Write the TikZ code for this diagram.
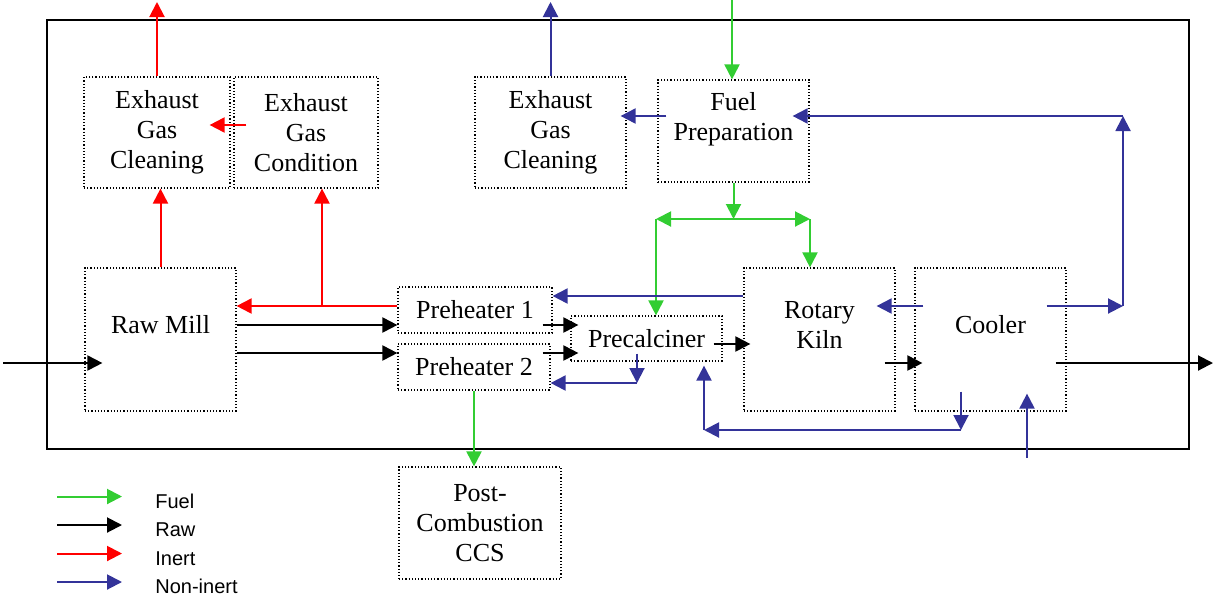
\documentclass[tikz,border=0pt]{standalone}
\usepackage{fontspec}
\setmainfont{Liberation Serif}
\newfontfamily\legendfont{Liberation Sans}
\usetikzlibrary{arrows.meta,calc}
\definecolor{fuelgreen}{RGB}{50,205,50}
\definecolor{inertred}{RGB}{255,0,0}
\definecolor{noninertblue}{RGB}{51,51,153}

\begin{document}
\begin{tikzpicture}[x=0.5pt, y=-0.5pt,
  unit/.style={draw, densely dotted, line width=0.6pt, align=center, inner sep=0pt,
    font=\fontsize{13}{15}\selectfont},
  flowline/.style={line width=1pt, -{Triangle[length=7.5pt,width=7.5pt]}},
  fuelline/.style={flowline, fuelgreen},
  rawline/.style={flowline, black},
  inertline/.style={flowline, inertred},
  noninertline/.style={flowline, noninertblue},
  legtext/.style={anchor=base west, inner sep=0pt, font=\legendfont\fontsize{10}{12}\selectfont}]
\useasboundingbox (0,0) rectangle (1213,600);

% plant boundary
\node[draw, line width=1pt, inner sep=0pt, minimum width=571pt, minimum height=214.5pt] (plant) at (618,234.5) {};

% units
\node[unit, minimum width=73pt, minimum height=55.5pt] (egc1) at (157,132.5) {Exhaust\\Gas\\Cleaning};
\node[unit, minimum width=72pt, minimum height=55.5pt] (egcond) at (306,132.5) {Exhaust\\Gas\\Condition};
\node[unit, minimum width=75.5pt, minimum height=55.5pt] (egc2) at (550.5,132.5) {Exhaust\\Gas\\Cleaning};
\node[unit, minimum width=75.5pt, minimum height=51pt] (fuelprep) at (733.5,131) {Fuel\\Preparation\\~};
\node[unit, minimum width=75.5pt, minimum height=71.5pt] (rawmill) at (160.5,339.5) {Raw Mill\\~};
\node[unit, minimum width=77pt, minimum height=23pt] (ph1) at (475,310) {Preheater 1};
\node[unit, minimum width=76pt, minimum height=23pt] (ph2) at (474,367) {Preheater 2};
\node[unit, minimum width=75.5pt, minimum height=22.5pt] (precalc) at (646.5,338.5) {Precalciner};
\node[unit, minimum width=75.5pt, minimum height=71.5pt] (kiln) at (819.5,339.5) {Rotary\\Kiln\\~};
\node[unit, minimum width=75.5pt, minimum height=71.5pt] (cooler) at (990.5,339.5) {Cooler\\~};
\node[unit, minimum width=81pt, minimum height=56pt] (ccs) at (480,523) {Post-\\Combustion\\CCS};

% free ends and bends
\coordinate (inertout) at (161,2);
\coordinate (noninertout) at (552,2);
\coordinate (fuelin) at (732,0);
\coordinate (rawin) at (3,363);
\coordinate (clinker) at (1213,363);
\coordinate (airin) at (1027,458);
\coordinate (split) at (322,306);
\coordinate (fuelsplit) at (fuelprep.south |- 0,219);
\coordinate (fuelleft) at (656,219);
\coordinate (fuelright) at (810,219);
\coordinate (pcbend) at (637,383);
\coordinate (coolbend) at (961,430);
\coordinate (calcbend) at (704,430);
\coordinate (recbend) at (1123,306);
\coordinate (rectop) at (1123,116);
% rows
\coordinate (rowa) at (0,325);
\coordinate (rowb) at (0,353);
\coordinate (rowc) at (0,344);
\coordinate (rowd) at (0,363);
\coordinate (rowe) at (0,296);
\coordinate (rowf) at (0,306);
\coordinate (rowg) at (0,116);
\coordinate (rowh) at (0,125);

% inert
\draw[inertline] (egc1.north) -- (egc1.north |- inertout);
\draw[inertline] ($(egcond.west |- rowh)+(13,0)$) -- ($(egc1.east |- rowh)+(-21,0)$);
\draw[inertline] (rawmill.north) -- (rawmill.north |- egc1.south);
\draw[inertline] (ph1.west |- rowf) -- (rawmill.east |- rowf);
\draw[inertline] (split) -- (split |- egcond.south);

% raw
\draw[rawline] (rawin) -- ($(rawmill.west |- rawin)+(18,0)$);
\draw[rawline] (rawmill.east |- rowa) -- (ph1.west |- rowa);
\draw[rawline] (rawmill.east |- rowb) -- (ph2.west |- rowb);
\draw[rawline] ($(ph1.east |- rowa)+(-10,0)$) -- ($(precalc.west |- rowa)+(8,0)$);
\draw[rawline] ($(ph2.east |- rowb)+(-8,0)$) -- ($(precalc.west |- rowb)+(8,0)$);
\draw[rawline] ($(precalc.east |- rowc)+(-9,0)$) -- ($(kiln.west |- rowc)+(7,0)$);
\draw[rawline] ($(kiln.east |- rowd)+(-11,0)$) -- ($(cooler.west |- rowd)+(8,0)$);
\draw[rawline] ($(cooler.east |- rowd)+(-11,0)$) -- (clinker);

% fuel
\draw[fuelline] (fuelin) -- (fuelin |- fuelprep.north);
\draw[fuelline] (fuelprep.south) -- (fuelsplit);
\draw[fuelline] (fuelsplit) -- (fuelleft);
\draw[fuelline] (fuelsplit) -- (fuelright);
\draw[fuelline] (fuelleft) -- (fuelleft |- precalc.north);
\draw[fuelline] (fuelright) -- (fuelright |- kiln.north);
\draw[fuelline] (ph2.south) -- (ph2.south |- ccs.north);

% non-inert
\draw[noninertline] (egc2.north) -- (egc2.north |- noninertout);
\draw[noninertline] ($(fuelprep.west |- rowg)+(9,0)$) -- ($(egc2.east |- rowg)+(-6,0)$);
\draw[noninertline] (kiln.west |- rowe) -- (ph1.east |- rowe);
\draw[noninertline] ($(precalc.south -| pcbend)+(0,-8)$) -- (pcbend);
\draw[noninertline] (pcbend) -- (ph2.east |- pcbend);
\draw[noninertline] ($(cooler.west |- rowf)+(9,0)$) -- ($(kiln.east |- rowf)+(-19,0)$);
\draw[noninertline] ($(cooler.east |- rowf)+(-20,0)$) -- (recbend);
\draw[noninertline] (recbend) -- (rectop);
\draw[noninertline] (rectop) -- ($(fuelprep.east |- rectop)+(-17,0)$);
\draw[noninertline] ($(cooler.south -| coolbend)+(0,-20)$) -- (coolbend);
\draw[noninertline] (coolbend) -- (calcbend);
\draw[noninertline] (calcbend) -- ($(precalc.south -| calcbend)+(0,4)$);
\draw[noninertline] (airin) -- ($(cooler.south -| airin)+(0,-18)$);

% legend
\foreach \lstyle/\ltext [count=\i] in {fuelline/Fuel, rawline/Raw, inertline/Inert, noninertline/Non-inert} {
  \node[legtext] (leg\i) at (155,479.5+28.5*\i) {\ltext};
  \coordinate (legtail\i) at ($(leg\i.base west)+(-98,-11.5)$);
  \coordinate (leghead\i) at ($(leg\i.base west)+(-33,-11.5)$);
  \draw[\lstyle] (legtail\i) -- (leghead\i);
}
\end{tikzpicture}
\end{document}
